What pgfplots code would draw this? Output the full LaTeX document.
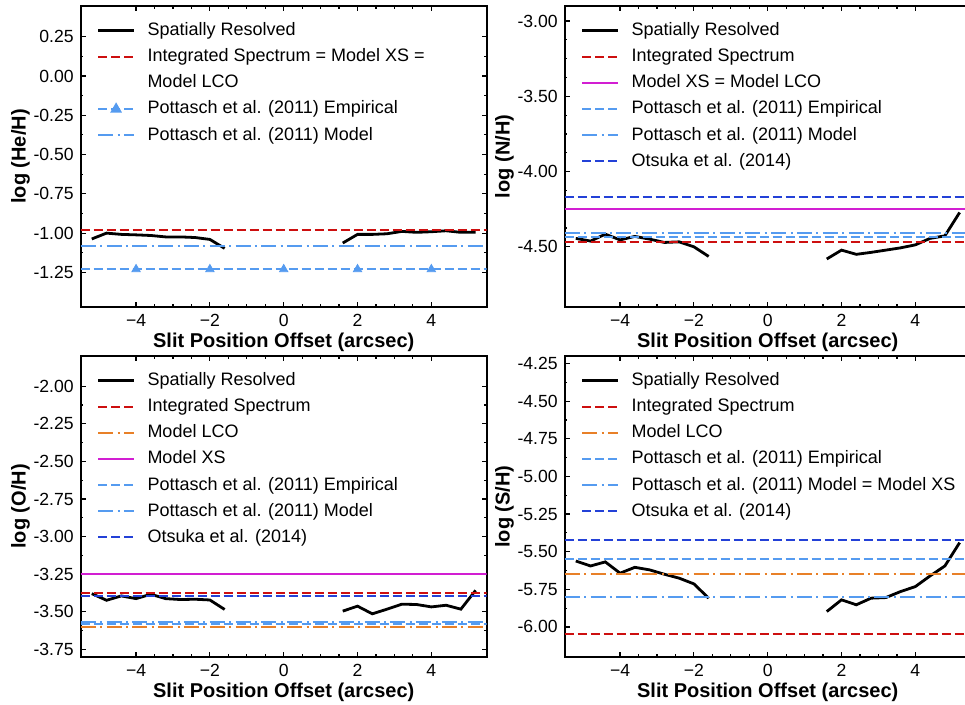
\documentclass[border=0pt]{standalone}
\usepackage{fontspec}
\setmainfont{Liberation Sans}
\usepackage{pgfplots}
\pgfplotsset{compat=1.18}
\usepgfplotslibrary{groupplots}
\usetikzlibrary{calc}

\definecolor{cint}{RGB}{205,15,15}
\definecolor{clco}{RGB}{232,128,40}
\definecolor{cxs}{RGB}{210,30,210}
\definecolor{cpot}{RGB}{85,155,240}
\definecolor{cots}{RGB}{35,65,215}

\pgfplotsset{
  resolved/.style={black, line width=1.4pt, solid},
  integ/.style={cint, line width=1pt, dash pattern=on 4.5pt off 2pt},
  lco/.style={clco, line width=1pt, dash pattern=on 7.5pt off 2.2pt on 1pt off 2.2pt},
  xs/.style={cxs, line width=1pt, solid},
  potemp/.style={cpot, line width=1pt, dash pattern=on 4.5pt off 2pt},
  potmod/.style={cpot, line width=1pt, dash pattern=on 7.5pt off 2.2pt on 1pt off 2.2pt},
  otsuka/.style={cots, line width=1pt, dash pattern=on 4.5pt off 2pt},
}

\begin{document}
\begin{tikzpicture}
\begin{groupplot}[
  group style={group size=2 by 2, group name=G, horizontal sep=39pt, vertical sep=24.5pt},
  width=203pt, height=150.5pt, scale only axis,
  xmin=-5.5, xmax=5.5,
  xtick={-4,-2,0,2,4}, xticklabels={−4,−2,0,2,4},
  minor x tick num=3,
  tick align=inside, major tick length=2.5pt, minor tick length=1.3pt,
  every tick/.style={black, line width=0.6pt},
  axis line style={line width=1.2pt},
  tick label style={font=\fontsize{8.8}{10}\selectfont},
  yticklabel={\pgfmathprintnumber[fixed,fixed zerofill,precision=2,assume math mode=true]{\tick}},
  xlabel={Slit Position Offset (arcsec)},
  label style={font=\fontsize{10}{12}\selectfont\bfseries},
  xlabel shift=-3.5pt, ylabel shift=-5pt,
  unbounded coords=jump,
  legend style={draw=none, fill=none, inner sep=0pt, outer sep=0pt,
    at={(rel axis cs:0,1)}, anchor=north west,
    xshift=8pt, yshift=-7.8pt, font=\fontsize{9}{11}\selectfont,
    row sep=3.85pt, nodes={inner sep=0pt, text height=7pt, text depth=2.2pt}},
  legend cell align=left,
  legend image code/.code={\draw[mark repeat=2,mark phase=2,#1] plot coordinates {(0pt,0pt)(9pt,0pt)(18pt,0pt)}; \path (24pt,0pt);},
]

% He/H
\nextgroupplot[ymin=-1.47, ymax=0.445,
  ytick={-1.25,-1,-0.75,-0.5,-0.25,0,0.25}, minor y tick num=1,
  ylabel={log (He/H)}]
\addplot[resolved] coordinates {(-5.2,-1.037) (-4.8,-1.000) (-4.4,-1.008) (-4.0,-1.011) (-3.6,-1.015) (-3.2,-1.024) (-2.8,-1.024) (-2.4,-1.028) (-2.0,-1.040) (-1.6,-1.097) (0,nan) (1.6,-1.063) (2.0,-1.008) (2.4,-1.008) (2.8,-1.004) (3.2,-0.989) (3.6,-0.995) (4.0,-0.991) (4.4,-0.985) (4.8,-0.995) (5.2,-0.995)};
\addlegendentry{Spatially Resolved}
\addplot[integ] coordinates {(-5.5,-0.98) (5.5,-0.98)};
\addlegendentry{Integrated Spectrum = Model XS =}
\addlegendimage{empty legend}
\addlegendentry{Model LCO}
\addplot[potemp, forget plot] coordinates {(-5.5,-1.23) (5.5,-1.23)};
\addplot[only marks, mark=triangle*, mark size=2.4pt, mark options={solid, fill=cpot, draw=cpot}, forget plot] coordinates {(-4,-1.23) (-2,-1.23) (0,-1.23) (2,-1.23) (4,-1.23)};
\addlegendimage{potemp, mark=triangle*, mark size=2.4pt, mark options={solid, fill=cpot, draw=cpot}}
\addlegendentry{Pottasch et al. (2011) Empirical}
\addplot[potmod] coordinates {(-5.5,-1.085) (5.5,-1.085)};
\addlegendentry{Pottasch et al. (2011) Model}

% N/H
\nextgroupplot[ymin=-4.9, ymax=-2.9,
  ytick={-4.5,-4,-3.5,-3}, minor y tick num=3,
  ylabel={log (N/H)}]
\addplot[resolved] coordinates {(-5.2,-4.444) (-4.8,-4.462) (-4.4,-4.416) (-4.0,-4.454) (-3.6,-4.431) (-3.2,-4.449) (-2.8,-4.471) (-2.4,-4.467) (-2.0,-4.500) (-1.6,-4.564) (0,nan) (1.6,-4.581) (2.0,-4.522) (2.4,-4.550) (2.8,-4.537) (3.2,-4.522) (3.6,-4.507) (4.0,-4.487) (4.4,-4.444) (4.8,-4.427) (5.2,-4.272)};
\addlegendentry{Spatially Resolved}
\addplot[integ] coordinates {(-5.5,-4.465) (5.5,-4.465)};
\addlegendentry{Integrated Spectrum}
\addplot[xs] coordinates {(-5.5,-4.25) (5.5,-4.25)};
\addlegendentry{Model XS = Model LCO}
\addplot[potemp] coordinates {(-5.5,-4.435) (5.5,-4.435)};
\addlegendentry{Pottasch et al. (2011) Empirical}
\addplot[potmod] coordinates {(-5.5,-4.405) (5.5,-4.405)};
\addlegendentry{Pottasch et al. (2011) Model}
\addplot[otsuka] coordinates {(-5.5,-4.17) (5.5,-4.17)};
\addlegendentry{Otsuka et al. (2014)}

% O/H
\nextgroupplot[ymin=-3.8, ymax=-1.8,
  ytick={-3.75,-3.5,-3.25,-3,-2.75,-2.5,-2.25,-2}, minor y tick num=1,
  ylabel={log (O/H)}]
\addplot[resolved] coordinates {(-5.2,-3.379) (-4.8,-3.423) (-4.4,-3.394) (-4.0,-3.412) (-3.6,-3.383) (-3.2,-3.412) (-2.8,-3.418) (-2.4,-3.416) (-2.0,-3.421) (-1.6,-3.484) (0,nan) (1.6,-3.495) (2.0,-3.462) (2.4,-3.513) (2.8,-3.482) (3.2,-3.449) (3.6,-3.451) (4.0,-3.467) (4.4,-3.456) (4.8,-3.482) (5.2,-3.357)};
\addlegendentry{Spatially Resolved}
\addplot[integ] coordinates {(-5.5,-3.372) (5.5,-3.372)};
\addlegendentry{Integrated Spectrum}
\addplot[lco] coordinates {(-5.5,-3.598) (5.5,-3.598)};
\addlegendentry{Model LCO}
\addplot[xs] coordinates {(-5.5,-3.25) (5.5,-3.25)};
\addlegendentry{Model XS}
\addplot[potemp] coordinates {(-5.5,-3.582) (5.5,-3.582)};
\addlegendentry{Pottasch et al. (2011) Empirical}
\addplot[potmod] coordinates {(-5.5,-3.567) (5.5,-3.567)};
\addlegendentry{Pottasch et al. (2011) Model}
\addplot[otsuka] coordinates {(-5.5,-3.392) (5.5,-3.392)};
\addlegendentry{Otsuka et al. (2014)}

% S/H
\nextgroupplot[ymin=-6.2, ymax=-4.2,
  ytick={-6,-5.75,-5.5,-5.25,-5,-4.75,-4.5,-4.25}, minor y tick num=1,
  ylabel={log (S/H)}]
\addplot[resolved] coordinates {(-5.2,-5.562) (-4.8,-5.595) (-4.4,-5.568) (-4.0,-5.643) (-3.6,-5.604) (-3.2,-5.621) (-2.8,-5.650) (-2.4,-5.676) (-2.0,-5.714) (-1.6,-5.809) (0,nan) (1.6,-5.898) (2.0,-5.820) (2.4,-5.853) (2.8,-5.809) (3.2,-5.805) (3.6,-5.765) (4.0,-5.732) (4.4,-5.661) (4.8,-5.595) (5.2,-5.440)};
\addlegendentry{Spatially Resolved}
\addplot[integ] coordinates {(-5.5,-6.05) (5.5,-6.05)};
\addlegendentry{Integrated Spectrum}
\addplot[lco] coordinates {(-5.5,-5.65) (5.5,-5.65)};
\addlegendentry{Model LCO}
\addplot[potemp] coordinates {(-5.5,-5.55) (5.5,-5.55)};
\addlegendentry{Pottasch et al. (2011) Empirical}
\addplot[potmod] coordinates {(-5.5,-5.80) (5.5,-5.80)};
\addlegendentry{Pottasch et al. (2011) Model = Model XS}
\addplot[otsuka] coordinates {(-5.5,-5.42) (5.5,-5.42)};
\addlegendentry{Otsuka et al. (2014)}
\end{groupplot}
\pgfresetboundingbox
\path[use as bounding box] ($(G c1r1.north west)+(-40.35pt,3pt)$) rectangle ($(G c2r2.south east)+(-2.85pt,-23.65pt)$);
\end{tikzpicture}
\end{document}
